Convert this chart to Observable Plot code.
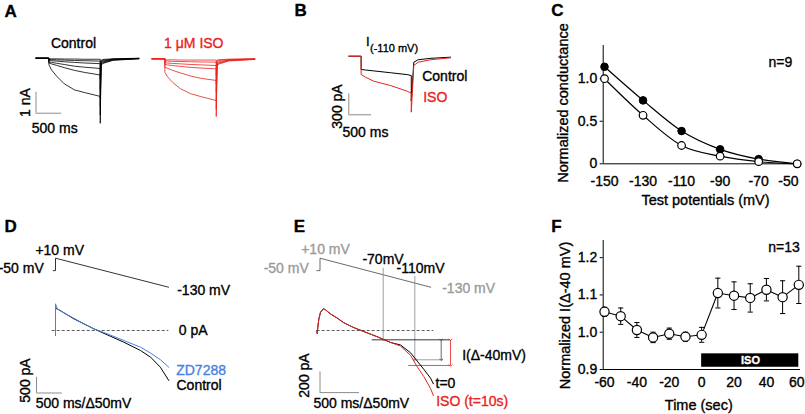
<!DOCTYPE html>
<html><head><meta charset="utf-8">
<script src="https://cdn.jsdelivr.net/npm/d3@7"></script>
<script src="https://cdn.jsdelivr.net/npm/@observablehq/plot@0.6"></script>
<style>
html,body{margin:0;padding:0;background:#fff;}
#fig{position:relative;width:805px;height:414px;overflow:hidden;background:#fff;}
#fig svg{position:absolute;left:0;top:0;}
#fig text{stroke-width:0.35px;stroke-linejoin:round;}
#fig g[aria-label$="tick label"]{stroke:black;}
</style></head><body><div id="fig"></div>
<script>
// ---------- Panel A: current families (nA) at step times (ms) ----------
const aTimes = [0, 250, 250, 300, 400, 550, 750, 950, 1250, 1250, 1265, 1300, 1500, 2000];
const aControl = [
  [0, 0, -0.30, -0.55, -0.85, -1.22, -1.51, -1.64, -1.82, -3.10, -0.35, -0.25, -0.10, -0.03],
  [0, 0, -0.23, -0.27, -0.34, -0.45, -0.58, -0.68, -0.80, -2.70, -0.30, -0.22, -0.08, -0.02],
  [0, 0, -0.18, -0.20, -0.24, -0.30, -0.38, -0.43, -0.49, -2.30, -0.25, -0.18, -0.07, -0.02],
  [0, 0, -0.11, -0.12, -0.14, -0.17, -0.20, -0.23, -0.26, -1.90, -0.20, -0.14, -0.05, -0.01],
  [0, 0, -0.06, -0.07, -0.08, -0.09, -0.11, -0.12, -0.14, -1.50, -0.15, -0.10, -0.04, -0.01],
  [0, 0, -0.03, -0.03, -0.03, -0.04, -0.04, -0.05, -0.05, -1.00, -0.10, -0.06, -0.03, 0]
];
const aISO = [
  [0, 0, -0.64, -0.85, -1.12, -1.42, -1.66, -1.80, -1.99, -2.75, -0.35, -0.25, -0.10, -0.03],
  [0, 0, -0.40, -0.45, -0.55, -0.67, -0.82, -0.93, -1.03, -2.40, -0.30, -0.22, -0.08, -0.02],
  [0, 0, -0.27, -0.29, -0.32, -0.36, -0.41, -0.44, -0.48, -2.00, -0.25, -0.18, -0.07, -0.02],
  [0, 0, -0.19, -0.20, -0.22, -0.24, -0.27, -0.29, -0.32, -1.60, -0.20, -0.14, -0.05, -0.01],
  [0, 0, -0.11, -0.11, -0.12, -0.13, -0.14, -0.15, -0.16, -1.20, -0.12, -0.08, -0.03, -0.01],
  [0, 0, -0.05, -0.05, -0.05, -0.06, -0.06, -0.06, -0.06, -0.80, -0.06, -0.04, -0.02, 0]
];
// ---------- Panel B: I(-110 mV) in pA ----------
const bTimes   = [0, 270, 270, 366, 548, 914, 1280, 1370, 1370, 1425, 1520, 1800, 2230];
const bControl = [0, 0, -190, -197, -210, -236, -263, -276, -640, -86, -51, -30, -14];
const bISO     = [0, 0, -261, -300, -357, -419, -500, -529, -800, -133, -86, -50, -23];
// ---------- Panel C: normalized conductance ----------
const cPotentials = [-150, -130, -110, -90, -70, -50];
const cControl = [1.0, 0.57, 0.215, 0.09, 0.025, 0];
const cISO     = [1.14, 0.745, 0.385, 0.17, 0.055, 0];
const cTicksX = [-150, -130, -110, -90, -70, -50];
const cTicksY = [0, 0.5, 1.0];
// ---------- Panel D: ramp protocol (mV) and ramp currents (pA) ----------
const dVTimes = [-45, 0, 0, 2200];
const dVolts  = [-50, -50, 10, -130];
const dTimes   = [0, 0, 33, 195, 356, 551, 745, 1006, 1329, 1654, 1850, 2040, 2204];
const dControl = [-160, 700, 691, 532, 373, 213, 54, -137, -373, -637, -850, -1169, -1592];
const dZD7288  = [-160, 850, 691, 532, 392, 213, 54, -105, -318, -532, -720, -930, -1169];
// ---------- Panel E ----------
const eVTimes = [-40, 0, 0, 1400];
const eVolts  = [-50, -50, 10, -130];
const eTimes   = [-38, -35, -28, -15, 6, 41, 70, 133, 218, 301, 428, 554, 724, 892, 1019, 1146, 1230, 1314, 1399, 1435];
const eControl = [0, -30, 30, 110, 175, 210, 200, 160, 120, 75, 28, -10, -60, -115, -140, -215, -295, -375, -460, -515];
const eISO     = [0, -30, 30, 110, 175, 210, 200, 160, 120, 75, 28, -10, -60, -115, -150, -240, -350, -445, -560, -628];
const eProbeVolts = [-70, -110];
const eProbeTimes = [800, 1200];
const eI70 = -90, eI110Control = -283, eI110ISO = -338;
// ---------- Panel F ----------
const fTimes  = [-60, -50, -40, -30, -20, -10, 0, 10, 20, 30, 40, 50, 60];
const fMeans  = [1.055, 1.043, 1.006, 0.986, 0.996, 0.988, 0.993, 1.105, 1.098, 1.092, 1.114, 1.094, 1.127];
const fErrors = [0.012, 0.022, 0.020, 0.014, 0.015, 0.012, 0.020, 0.040, 0.037, 0.038, 0.030, 0.044, 0.050];
const fTicksX = [-60, -40, -20, 0, 20, 40, 60];
const fTicksY = [0.9, 1.0, 1.1, 1.2];
const fISOPeriod = [0, 60];

// ================= drawing =================
const fig = document.getElementById("fig");
const W = 805, H = 414;
const FONT = '"Liberation Sans", Arial, Helvetica, sans-serif';
const RED = "#e8231e", BLUE = "#4a80e2", GREY = "#9a9a9a", BAR = "#8c8c8c";

function addLayer(opts) {
  const el = Plot.plot(Object.assign({
    width: W, height: H,
    marginTop: 0, marginRight: 0, marginBottom: 0, marginLeft: 0
  }, opts, {
    style: {background: "transparent", fontFamily: FONT, fontSize: "14px", color: "black", overflow: "visible"}
  }));
  el.style.position = "absolute"; el.style.left = "0px"; el.style.top = "0px";
  fig.appendChild(el);
  return el;
}
function toRows(times, series, key) {
  return series.flatMap((vals, k) => vals.map((v, i) => ({t: times[i], v, k: key + k})));
}
const one = (times, vals, key) => vals.map((v, i) => ({t: times[i], v, k: key}));
const tickText = {text: d => String(d), fontSize: 14, fill: "black", stroke: "black", strokeWidth: 0.35};

// Panel A - control
addLayer({
  x: {domain: [0, 2000], range: [35.5, 138.3], axis: null},
  y: {domain: [0, -3], range: [57.7, 120.7], axis: null},
  marks: [
    Plot.line(toRows(aTimes, aControl, "c"), {x: "t", y: "v", z: "k", stroke: "black", strokeWidth: 0.8}),
    Plot.ruleX([0], {y1: -1.62, y2: -2.62, stroke: BAR}),
    Plot.ruleY([-2.62], {x1: 0, x2: 500, stroke: BAR})
  ]
});
// Panel A - ISO
addLayer({
  x: {domain: [0, 2000], range: [151.5, 254.3], axis: null},
  y: {domain: [0, -3], range: [58.3, 121.3], axis: null},
  marks: [
    Plot.line(toRows(aTimes, aISO, "i"), {x: "t", y: "v", z: "k", stroke: RED, strokeWidth: 0.8})
  ]
});
// Panel B
addLayer({
  x: {domain: [0, 2230], range: [348.3, 450], axis: null},
  y: {domain: [0, -900], range: [55.7, 118.7], axis: null},
  marks: [
    Plot.line(one(bTimes, bControl, "c"), {x: "t", y: "v", stroke: "black", strokeWidth: 1}),
    Plot.line(one(bTimes, bISO, "i"), {x: "t", y: "v", stroke: RED, strokeWidth: 1}),
    Plot.ruleX([0], {y1: -537, y2: -837, stroke: BAR}),
    Plot.ruleY([-837], {x1: 0, x2: 500, stroke: BAR})
  ]
});
// Panel C
const cRows = [...one(cPotentials, cControl, "control"), ...one(cPotentials, cISO, "iso")];
addLayer({
  marginLeft: 602.7, marginRight: 5, marginTop: 45, marginBottom: H - 163.3,
  x: {domain: [-150, -50], range: [604, 796.7], axis: null},
  y: {domain: [0, 1.39], range: [163.3, 45], ticks: cTicksY, tickFormat: d => d === 0 ? "0" : d.toFixed(1), tickSize: 3, tickPadding: 3, label: null},
  marks: [
    Plot.ruleX([-150], {y1: 0, y2: 1.39, dx: -1.3, stroke: "black"}),
    Plot.ruleY([0], {x1: -150, x2: -50, insetLeft: -1.3, insetRight: -3.3, stroke: "black"}),
    Plot.text(cTicksX.slice(0, -1), {x: d => d, y: 0, dy: 18.2, ...tickText}),
    Plot.text(cTicksX.slice(-1), {x: d => d, y: 0, dy: 18.2, dx: 1.3, textAnchor: "end", ...tickText}),
    Plot.line(cRows, {x: "t", y: "v", z: "k", curve: "monotone-x", stroke: "black", strokeWidth: 1.2}),
    Plot.dot(cRows.filter(d => d.k === "iso"), {x: "t", y: "v", r: 3.8, fill: "black", stroke: "black", strokeWidth: 1}),
    Plot.dot(cRows.filter(d => d.k === "control"), {x: "t", y: "v", r: 3.8, fill: "white", stroke: "black", strokeWidth: 1.2})
  ]
});
// Panel D - protocol
addLayer({
  x: {domain: [0, 2204], range: [55, 168.3], axis: null},
  y: {domain: [10, -130], range: [257.7, 286.7], axis: null},
  marks: [Plot.line(one(dVTimes, dVolts, "v"), {x: "t", y: "v", stroke: "black", strokeWidth: 0.8})]
});
// Panel D - currents
addLayer({
  x: {domain: [0, 2204], range: [55, 168.3], axis: null},
  y: {domain: [0, -2000], range: [330, 392.8], axis: null},
  marks: [
    Plot.ruleY([0], {x1: -64, x2: 2204, stroke: "#333", strokeWidth: 0.8, strokeDasharray: "3,2"}),
    Plot.line(one(dTimes, dControl, "c"), {x: "t", y: "v", stroke: "black", strokeWidth: 1}),
    Plot.line(one(dTimes, dZD7288, "z"), {x: "t", y: "v", stroke: BLUE, strokeWidth: 1}),
    Plot.ruleX([-370], {y1: -1490, y2: -1990, stroke: BAR}),
    Plot.ruleY([-1990], {x1: -370, x2: 130, stroke: BAR})
  ]
});
// Panel E - protocol
const eXScale = {domain: [0, 1400], range: [319.5, 430.1], axis: null};
const eVY = {domain: [10, -130], range: [257.7, 286.7]};
const eIY = {domain: [0, -700], range: [330, 402.45]};
addLayer({
  x: eXScale,
  y: {...eVY, axis: null},
  marks: [Plot.line(one(eVTimes, eVolts, "v"), {x: "t", y: "v", stroke: "#444", strokeWidth: 0.8})]
});
// Panel E - currents + measurement
const eVScale = Plot.scale({y: eVY});
const eIScale = Plot.scale({y: eIY});
const probes = eProbeVolts.map((V, i) => ({
  t: eProbeTimes[i],
  top: eIScale.invert(eVScale.apply(V) - 7),
  I: i === 0 ? eI70 : eI110Control
}));
addLayer({
  x: eXScale,
  y: {...eIY, axis: null},
  marks: [
    Plot.ruleY([0], {x1: -36, x2: 1440, stroke: "#333", strokeWidth: 0.8, strokeDasharray: "3,2"}),
    Plot.link(probes, {x1: "t", x2: "t", y1: "top", y2: "I", stroke: "#888", strokeWidth: 0.8, markerEnd: "arrow"}),
    Plot.ruleY([eI70], {x1: 661, x2: 1652, stroke: "black", strokeWidth: 0.8}),
    Plot.ruleY([eI110Control], {x1: 1187, x2: 1559, stroke: "#888", strokeWidth: 0.8}),
    Plot.ruleY([eI110ISO], {x1: 1124, x2: 1652, stroke: RED, strokeWidth: 0.8}),
    Plot.link([0], {x1: 1534, x2: 1534, y1: eI70, y2: eI110Control, stroke: "#444", strokeWidth: 0.8, markerStart: "arrow", markerEnd: "arrow"}),
    Plot.link([0], {x1: 1652, x2: 1652, y1: eI70, y2: eI110ISO, stroke: RED, strokeWidth: 0.8, markerStart: "arrow", markerEnd: "arrow"}),
    Plot.line(one(eTimes, eControl, "c"), {x: "t", y: "v", stroke: "black", strokeWidth: 1}),
    Plot.line(one(eTimes, eISO, "i"), {x: "t", y: "v", stroke: RED, strokeWidth: 1}),
    Plot.ruleX([0], {y1: -400, y2: -600, stroke: BAR}),
    Plot.ruleY([-600], {x1: 0, x2: 500, stroke: BAR})
  ]
});
// Panel F
const fRows = fTimes.map((t, i) => ({t, m: fMeans[i], e: fErrors[i]}));
const capSymbol = {draw(ctx) { ctx.moveTo(-2.6, 0); ctx.lineTo(2.6, 0); }};
addLayer({
  marginLeft: 602.7, marginRight: 5, marginTop: 240, marginBottom: H - 369,
  x: {domain: [-60, 60], range: [604, 798.3], axis: null},
  y: {domain: [0.9, 1.246], range: [369, 240], ticks: fTicksY, tickFormat: d => d.toFixed(1), tickSize: 3, tickPadding: 3, label: null},
  marks: [
    Plot.ruleX([-60], {y1: 0.9, y2: 1.246, dx: -1.3, stroke: "black"}),
    Plot.ruleY([0.9], {x1: -60, x2: 60, insetLeft: -1.3, insetRight: -1.7, stroke: "black"}),
    Plot.text(fTicksX.slice(0, -1), {x: d => d, y: 0.9, dy: 13, ...tickText}),
    Plot.text(fTicksX.slice(-1), {x: d => d, y: 0.9, dy: 13, dx: 5.7, textAnchor: "end", ...tickText}),
    Plot.rect([fISOPeriod], {x1: d => d[0], x2: d => d[1], y1: 0.906, y2: 0.942, fill: "black"}),
    Plot.ruleX(fRows, {x: "t", y1: d => d.m - d.e, y2: d => d.m + d.e, stroke: "black", strokeWidth: 1}),
    Plot.dot(fRows, {x: "t", y: d => d.m + d.e, symbol: capSymbol, fill: "none", stroke: "black", strokeWidth: 1}),
    Plot.dot(fRows, {x: "t", y: d => d.m - d.e, symbol: capSymbol, fill: "none", stroke: "black", strokeWidth: 1}),
    Plot.line(fRows, {x: "t", y: "m", stroke: "black", strokeWidth: 1.1}),
    Plot.dot(fRows, {x: "t", y: "m", r: 4.6, fill: "white", stroke: "black", strokeWidth: 1.2})
  ]
});

// ---------- text annotations ----------
const L = (s, x, y, o = {}) => Plot.text([s], {x: () => x, y: () => y, text: d => d, fontSize: 14, fill: "black", stroke: o.fill || "black", strokeWidth: 0.35, ...o});
const B = {fontWeight: "bold", fontSize: 17, textAnchor: "start", strokeWidth: 0};
addLayer({
  x: {type: "identity", axis: null},
  y: {type: "identity", axis: null},
  marks: [
    L("A", 4, 11.5, B), L("B", 294, 10.5, B), L("C", 550.7, 10.5, B),
    L("D", 4, 226, B), L("E", 293.3, 226, B), L("F", 550.7, 226, B),
    // A
    L("Control", 73, 43), L("1 \u03bcM ISO", 193.3, 43, {fill: RED}),
    L("1 nA", 25.3, 102, {rotate: -90}), L("500 ms", 54.2, 128.5),
    // B
    L("I", 367.3, 41, {fontSize: 13}), L("(-110 mV)", 369.5, 48.3, {fontSize: 11, textAnchor: "start"}),
    L("Control", 421.7, 76.2, {textAnchor: "start"}), L("ISO", 422.7, 96.8, {textAnchor: "start", fill: RED}),
    L("300 pA", 336.7, 106, {rotate: -90}), L("500 ms", 365, 131.8),
    // C
    L("n=9", 791.7, 62.2, {textAnchor: "end"}),
    L("Test potentials (mV)", 705, 199.5, {fontSize: 14.5}),
    L("Normalized conductance", 563.3, 102.5, {rotate: -90, fontSize: 14.5}),
    // D
    L("+10 mV", 59.2, 250.5), L("-50 mV", 43.3, 268.5, {textAnchor: "end"}),
    L("-130 mV", 176.7, 289.7, {textAnchor: "start"}), L("0 pA", 178.3, 330.2, {textAnchor: "start"}),
    L("ZD7288", 175.7, 369.8, {textAnchor: "start", fill: BLUE}), L("Control", 176, 384.6, {textAnchor: "start"}),
    L("500 pA", 25, 380, {rotate: -90}), L("500 ms/\u039450mV", 83, 402.7),
    // E
    L("+10 mV", 325, 249, {fill: GREY}), L("-50 mV", 308.3, 268.5, {textAnchor: "end", fill: GREY}),
    L("-130 mV", 441.7, 288.5, {textAnchor: "start", fill: GREY}),
    L("-70mV", 382.5, 259.2), L("-110mV", 420, 268.5),
    L("I(\u0394-40mV)", 461.7, 354.9, {textAnchor: "start"}),
    L("t=0", 435, 383, {textAnchor: "start"}), L("ISO (t=10s)", 435.7, 401.5, {textAnchor: "start", fill: RED}),
    L("200 pA", 304, 375, {rotate: -90}), L("500 ms/\u039450mV", 360.8, 403.4),
    // F
    L("n=13", 799.3, 246.7, {textAnchor: "end"}),
    L("ISO", 750, 360.2, {fill: "white", fontWeight: "bold", fontSize: 11}),
    L("Time (sec)", 698.3, 405.2, {fontSize: 14.5}),
    L("Normalized I(\u0394-40 mV)", 565, 315, {rotate: -90, fontSize: 14.5})
  ]
});
</script></body></html>
